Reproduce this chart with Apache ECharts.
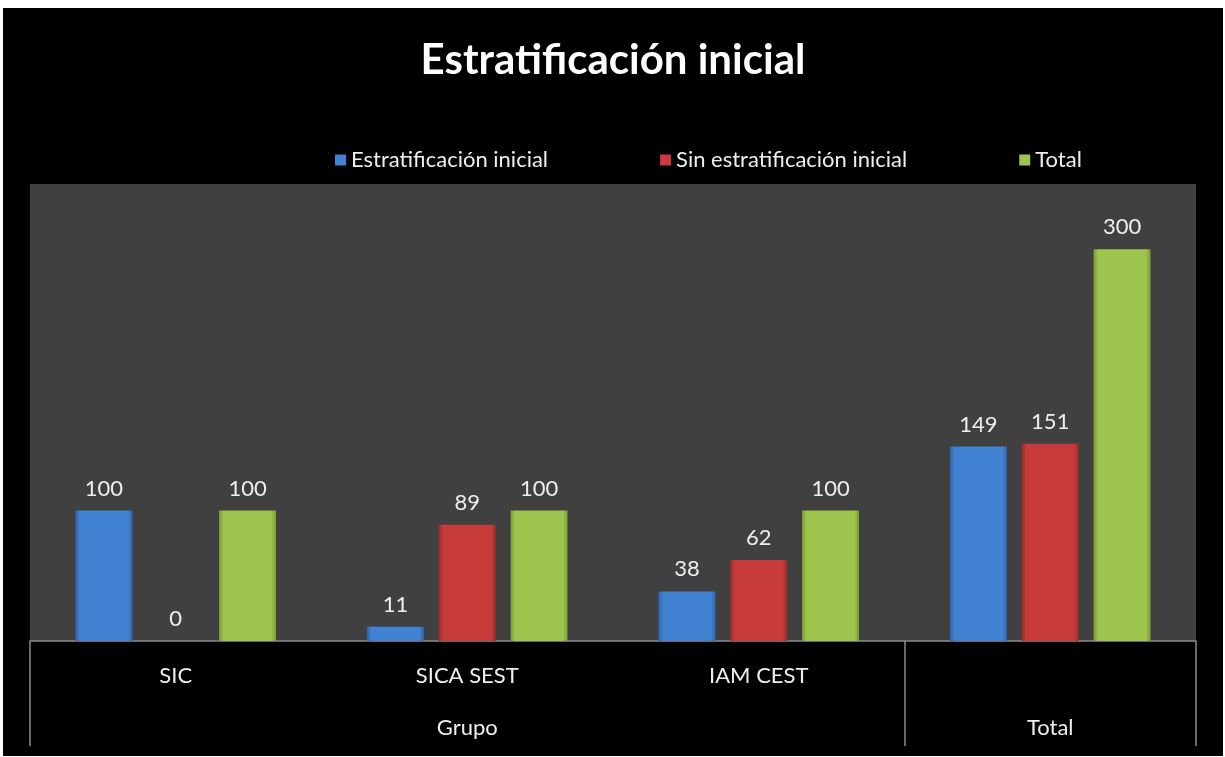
<!DOCTYPE html>
<html>
<head>
<meta charset="utf-8">
<script src="https://cdn.jsdelivr.net/npm/echarts@6/dist/echarts.min.js"></script>
<style>
html,body{margin:0;padding:0;background:#fff;}
#chart{position:absolute;left:3px;top:8px;width:1220px;height:748px;background:#000;}
</style>
</head>
<body>
<div id="chart"></div>
<script>
const categories = ['SIC', 'SICA SEST', 'IAM CEST', ''];
const groupLabels = ['Grupo', 'Total'];
const seriesNames = ['Estratificación inicial', 'Sin estratificación inicial', 'Total'];
const estratificacion = [100, 11, 38, 149];
const sinEstratificacion = [0, 89, 62, 151];
const total = [100, 100, 100, 300];

const FONT = 'Lato, "Open Sans", sans-serif';

function barColor(mid, dark) {
  return new echarts.graphic.LinearGradient(0, 0, 1, 0, [
    {offset: 0, color: dark},
    {offset: 0.08, color: mid},
    {offset: 0.92, color: mid},
    {offset: 1, color: dark}
  ]);
}
const colors = [
  barColor('#4282d2', '#2f64a8'),
  barColor('#c83b3b', '#9a2a2a'),
  barColor('#9dc44c', '#7a9a34')
];
const legendColors = ['#4282d2', '#c83b3b', '#9dc44c'];

const chart = echarts.init(document.getElementById('chart'));
const data = [estratificacion, sinEstratificacion, total];

const option = {
  backgroundColor: '#000',
  animation: false,
  title: {
    text: 'Estratificación inicial',
    left: 'center',
    top: 26,
    textStyle: {color: '#fff', fontSize: 42, fontWeight: 'bold', fontFamily: FONT}
  },
  legend: {
    left: 327,
    top: 136,
    itemWidth: 11,
    itemHeight: 11,
    itemGap: 112,
    icon: 'rect',
    textStyle: {color: '#eee', fontSize: 22, fontFamily: FONT},
    data: seriesNames.map((n, i) => ({name: n, itemStyle: {color: legendColors[i]}}))
  },
  grid: {
    left: 27, right: 27, top: 176, bottom: 115,
    show: true, backgroundColor: '#404040', borderWidth: 0
  },
  xAxis: [
    {
      type: 'category',
      data: categories,
      axisLine: {lineStyle: {color: '#8a8a8a', width: 1.5}},
      axisTick: {show: false},
      axisLabel: {color: '#eee', fontSize: 22, fontFamily: FONT, margin: 24}
    },
    {
      type: 'value',
      position: 'bottom',
      min: 0, max: 4,
      splitLine: {show: false},
      axisLine: {show: false},
      axisTick: {show: true, customValues: [0, 3, 4], length: 105, lineStyle: {color: '#8a8a8a', width: 1.5}},
      axisLabel: {
        customValues: [1.5, 3.5],
        color: '#eee', fontSize: 22, fontFamily: FONT, margin: 76,
        formatter: v => (v < 3 ? groupLabels[0] : groupLabels[1])
      }
    }
  ],
  yAxis: {type: 'value', min: 0, max: 350, show: false, splitLine: {show: false}},
  series: seriesNames.map((name, i) => ({
    name: name,
    type: 'bar',
    xAxisIndex: 0,
    barWidth: 57,
    barGap: '26%',
    data: data[i],
    itemStyle: {color: colors[i]},
    label: {show: true, position: 'top', distance: 11, color: '#eee', fontSize: 22, fontFamily: FONT}
  }))
};
chart.setOption(option);
</script>
</body>
</html>
